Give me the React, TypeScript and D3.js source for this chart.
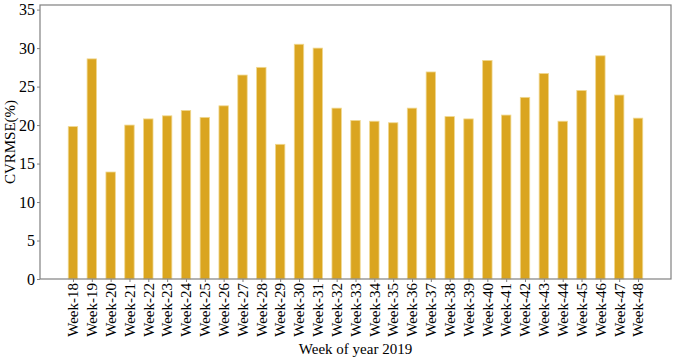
import { useEffect, useRef } from "react";
import * as d3 from "d3";

// weeks shown on the x axis
const weeks = [
  18, 19, 20, 21, 22, 23, 24, 25, 26, 27, 28, 29, 30, 31, 32, 33, 34, 35, 36,
  37, 38, 39, 40, 41, 42, 43, 44, 45, 46, 47, 48,
];
const weekLabels = weeks.map((w) => `Week-${w}`);

// CVRMSE per week (%)
const cvrmse = [
  19.8, 28.6, 13.9, 20.0, 20.8, 21.2, 21.9, 21.0, 22.5, 26.5, 27.5, 17.5, 30.5,
  30.0, 22.2, 20.6, 20.5, 20.3, 22.2, 26.9, 21.1, 20.8, 28.4, 21.3, 23.6, 26.7,
  20.5, 24.5, 29.0, 23.9, 20.9,
];

const yTicks = [0, 5, 10, 15, 20, 25, 30, 35];

function App() {
  const ref = useRef<SVGSVGElement | null>(null);

  useEffect(() => {
    const width = 676;
    const height = 359;
    const margin = { top: 5, right: 5, bottom: 80, left: 40 };
    const font = "Liberation Serif, Times New Roman, serif";

    const svg = d3.select(ref.current);
    svg.selectAll("*").remove();

    const x = d3
      .scaleLinear()
      .domain([-1.75, weeks.length - 1 + 1.75])
      .range([margin.left, width - margin.right]);

    const y = d3
      .scaleLinear()
      .domain([0, 35.6])
      .range([height - margin.bottom, margin.top]);

    const step = x(1) - x(0);
    const barW = step * 0.5;

    // bars
    svg
      .append("g")
      .selectAll("rect")
      .data(cvrmse)
      .enter()
      .append("rect")
      .attr("x", (d, i) => x(i) - barW / 2)
      .attr("y", (d) => y(d))
      .attr("width", barW)
      .attr("height", (d) => y(0) - y(d))
      .attr("fill", "#DAA520")
      .attr("stroke", "#F0D890")
      .attr("stroke-width", 0.8);

    // frame
    svg
      .append("rect")
      .attr("x", margin.left)
      .attr("y", margin.top)
      .attr("width", width - margin.right - margin.left)
      .attr("height", y(0) - margin.top)
      .attr("fill", "none")
      .attr("stroke", "#808080")
      .attr("stroke-width", 1.2);

    // y axis
    const yAxis = svg
      .append("g")
      .attr("transform", `translate(${margin.left},0)`)
      .call(d3.axisLeft(y).tickValues(yTicks).tickSize(3).tickPadding(2));
    yAxis.select(".domain").remove();
    yAxis.selectAll("line").attr("stroke", "#808080");
    yAxis
      .selectAll("text")
      .attr("fill", "#000")
      .style("font-family", font)
      .style("font-size", "16px");

    // x axis
    const xAxis = svg
      .append("g")
      .attr("transform", `translate(0,${y(0)})`)
      .call(
        d3
          .axisBottom(x)
          .tickValues(weeks.map((w, i) => i))
          .tickFormat((d) => weekLabels[d as number])
          .tickSize(3)
      );
    xAxis.select(".domain").remove();
    xAxis.selectAll("line").attr("stroke", "#808080");
    xAxis
      .selectAll("text")
      .attr("fill", "#000")
      .style("font-family", font)
      .style("font-size", "15px")
      .attr("text-anchor", "end")
      .attr("dy", "0.32em")
      .attr("transform", "translate(0,4) rotate(-90)")
      .attr("x", 0)
      .attr("y", 0);

    // axis titles
    svg
      .append("text")
      .attr("x", (margin.left + width - margin.right) / 2)
      .attr("y", height - 5)
      .attr("text-anchor", "middle")
      .style("font-family", font)
      .style("font-size", "15px")
      .attr("fill", "#000")
      .text("Week of year 2019");

    svg
      .append("text")
      .attr(
        "transform",
        `translate(15,${(margin.top + y(0)) / 2}) rotate(-90)`
      )
      .attr("text-anchor", "middle")
      .style("font-family", font)
      .style("font-size", "15px")
      .attr("fill", "#000")
      .text("CVRMSE(%)");
  }, []);

  return (
    <svg
      ref={ref}
      width={676}
      height={359}
      style={{ position: "absolute", left: 0, top: 0, background: "#fff" }}
    />
  );
}

export default App;
